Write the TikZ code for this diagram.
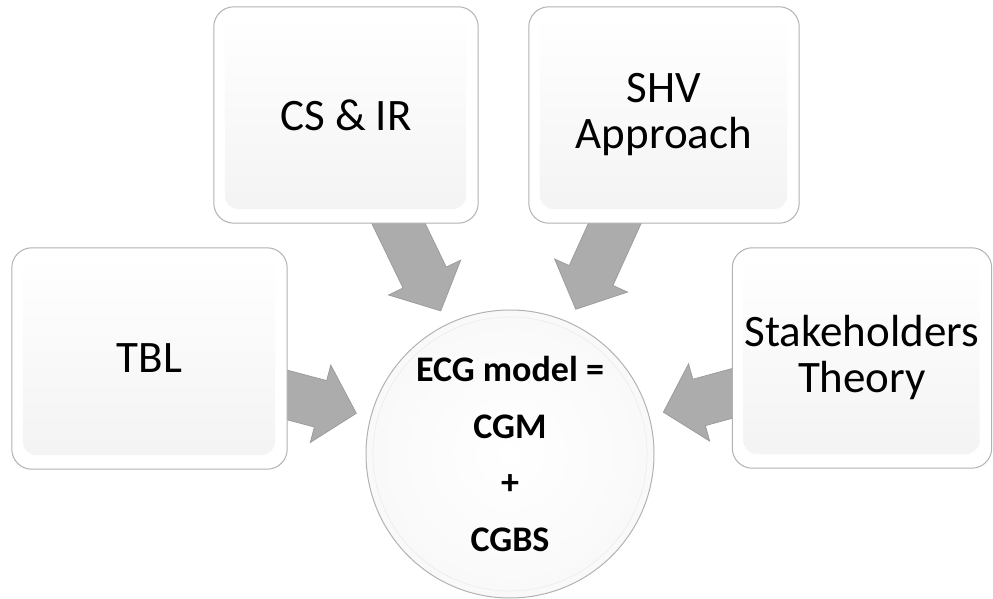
\documentclass[tikz,border=0pt]{standalone}
\usepackage{fontspec}
\setmainfont{Carlito}
\usetikzlibrary{calc}
\pgfdeclarelayer{bg}
\pgfsetlayers{bg,main}
\tikzset{
  boxtext/.style={shape=rectangle, inner sep=0pt, align=center, text=black,
    font=\fontsize{45}{46}\selectfont},
  boxedge/.style={draw=gray!60, line width=1pt, fill=white, rounded corners=20pt},
  boxface/.style={top color=white, middle color=white, bottom color=gray!9, rounded corners=14pt},
  hubtext/.style={shape=circle, inner sep=0pt, minimum size=288pt, align=center,
    font=\fontsize{36}{56.5}\selectfont\bfseries, text=black},
  blockarr/.style={fill=gray!65, draw=gray!78, line width=0.8pt, line join=miter},
}
\newcommand\drawbox[1]{%
  \path[boxedge] (#1.north west) rectangle (#1.south east);
  \path[boxface] ($(#1.north west)+(11,-8)$) rectangle ($(#1.south east)+(-12,14)$);
}
\newcommand\blockarrow[2]{%
  \draw[blockarr] let \p1=($(#2.center)-(#1.center)$), \n1={atan2(\y1,\x1)},
    \p2=($(#2.center)!159pt!(#1.center)$) in
    (\p2) -- ($(\p2)+({\n1+180}:37)+({\n1+90}:40)$)
    -- ($(\p2)+({\n1+180}:37)+({\n1+90}:24)$)
    -- ($(\p2)+({\n1+180}:140)+({\n1+90}:24)$)
    -- ($(\p2)+({\n1+180}:140)+({\n1-90}:24)$)
    -- ($(\p2)+({\n1+180}:37)+({\n1-90}:24)$)
    -- ($(\p2)+({\n1+180}:37)+({\n1-90}:40)$) -- cycle;
}
\begin{document}
\begin{tikzpicture}[x=1pt,y=1pt]
\useasboundingbox (0,0) rectangle (993,599);
% text nodes (define geometry)
\node[boxtext, minimum width=275pt, minimum height=221pt] (tbl) at (149.5,240.5) {TBL};
\node[boxtext, minimum width=264pt, minimum height=216pt] (csir) at (346,484) {CS \& IR};
\node[boxtext, minimum width=270pt, minimum height=216pt] (shv) at (664,484) {SHV\\Approach};
\node[boxtext, minimum width=259pt, minimum height=220pt] (sth) at (862,241) {Stakeholders\\Theory};
\node[hubtext] (ecg) at (510,145) {ECG model =\\CGM\\+\\CGBS};
\begin{pgfonlayer}{bg}
  \blockarrow{tbl}{ecg}
  \blockarrow{csir}{ecg}
  \blockarrow{shv}{ecg}
  \blockarrow{sth}{ecg}
  \drawbox{tbl}
  \drawbox{csir}
  \drawbox{shv}
  \drawbox{sth}
  \path[draw=gray!60, line width=1pt, inner color=white, outer color=gray!5] (ecg.center) circle[radius=144];
  \draw[gray!15, line width=0.6pt] (ecg.center) circle[radius=137];
\end{pgfonlayer}
\end{tikzpicture}
\end{document}
